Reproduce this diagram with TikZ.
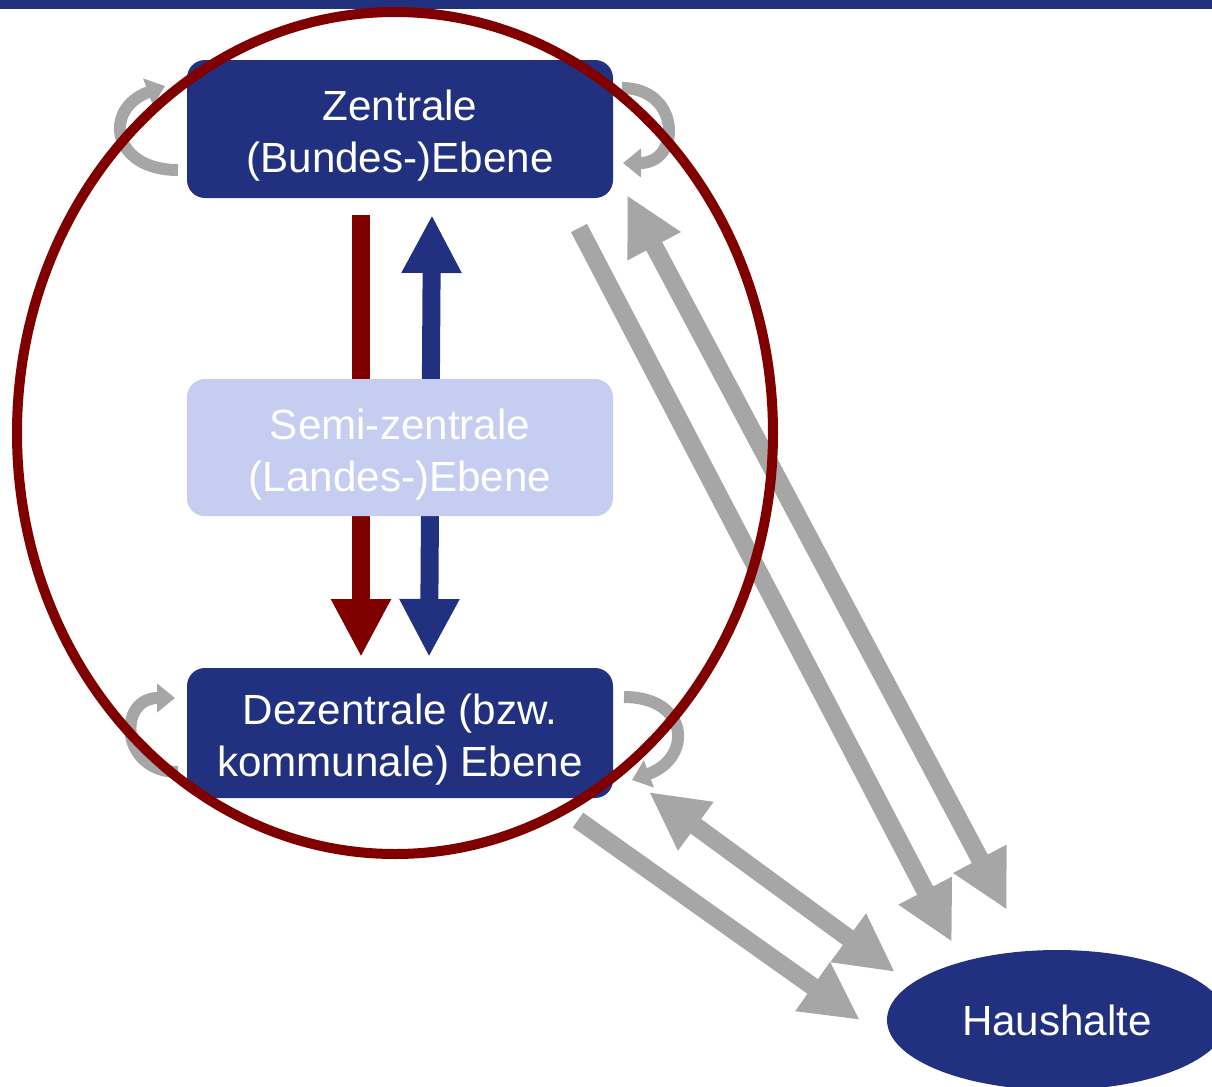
\documentclass[tikz,border=0pt]{standalone}
\usepackage{fontspec}
\setmainfont{Liberation Sans}
\usepackage{xcolor}
\usetikzlibrary{arrows.meta,shapes.geometric}
\definecolor{ebeneblau}{RGB}{33,49,128}
\definecolor{landesblau}{RGB}{197,206,240}
\definecolor{kreisrot}{RGB}{128,0,0}
\definecolor{pfeilgrau}{RGB}{166,166,166}
\newcommand{\obenluft}{\rule{0pt}{1.1cm}}

\begin{document}
\begin{tikzpicture}[inner sep=3pt]
		\tikzstyle{every node}=[align=center, text=white, font=\fontsize{30}{37}\selectfont]
		\tikzstyle{ebene}=[rectangle, rounded corners=0.45cm, minimum width=10.65cm]
		\tikzstyle{blockpfeil}=[line width=0.45cm, -{Triangle[width=1.4cm,length=1.45cm]}]
		\tikzstyle{doppelpfeil}=[line width=0.45cm, {Triangle[width=1.4cm,length=1.45cm]}-{Triangle[width=1.4cm,length=1.45cm]}]
		\tikzstyle{schleife}=[pfeilgrau, line width=0.3cm, -{Triangle[width=0.7cm,length=0.45cm]}]
			\useasboundingbox (0,0) rectangle (30.3,-27.15);
			\fill[ebeneblau] (0,0) rectangle (30.3,-0.225);

			\coordinate (bundOben) at (9.025,-5.375);
			\coordinate (bundUnten) at (9.025,-16.425);
			\coordinate (rueckOben) at (10.8,-5.375);
			\coordinate (rueckUnten) at (10.725,-16.425);
			\coordinate (zhStart) at (14.475,-5.7);
			\coordinate (zhEnde) at (23.8,-23.55);
			\coordinate (hzOben) at (15.675,-4.875);
			\coordinate (hzUnten) at (25.175,-22.75);
			\coordinate (dhStart) at (14.45,-20.5);
			\coordinate (dhEnde) at (21.5,-25.5);
			\coordinate (hdOben) at (16.225,-19.8);
			\coordinate (hdUnten) at (22.375,-24.3);

			\draw[blockpfeil, pfeilgrau] (zhStart) to (zhEnde);
			\draw[doppelpfeil, pfeilgrau] (hzOben) to (hzUnten);
			\draw[blockpfeil, pfeilgrau] (dhStart) to (dhEnde);
			\draw[doppelpfeil, pfeilgrau] (hdOben) to (hdUnten);
			\draw[blockpfeil, kreisrot] (bundOben) to (bundUnten);
			\draw[doppelpfeil, ebeneblau] (rueckOben) to (rueckUnten);

			\node[ebene, fill=ebeneblau, minimum height=3.45cm] (zentral) at (10.0,-3.225) {\obenluft Zentrale\\(Bundes-)Ebene};
			\node[ebene, fill=landesblau, minimum height=3.43cm] (land) at (10.0,-11.19) {\obenluft Semi-zentrale\\(Landes-)Ebene};
			\node[ebene, fill=ebeneblau, minimum height=3.25cm] (dezentral) at (10.0,-18.325) {\obenluft Dezentrale (bzw.\\kommunale) Ebene};
			\node[ellipse, fill=ebeneblau, minimum width=8.5cm, minimum height=3.5cm] (haushalte) at (26.425,-25.5) {Haushalte};

			\coordinate (zlA) at (4.45,-4.25);
			\coordinate (zlB) at (4.125,-2.15);
			\coordinate (zrA) at (15.55,-2.2);
			\coordinate (zrB) at (15.575,-4.075);
			\coordinate (dlA) at (4.45,-19.3);
			\coordinate (dlB) at (4.375,-17.45);
			\coordinate (drA) at (15.6,-17.425);
			\coordinate (drB) at (15.8,-19.5);

			\draw[schleife] (zlA) [out=180, in=200, looseness=2] to (zlB);
			\draw[schleife] (zrA) [out=0, in=0, looseness=2] to (zrB);
			\draw[schleife] (dlA) [out=180, in=180, looseness=2] to (dlB);
			\draw[schleife] (drA) [out=0, in=20, looseness=2] to (drB);

			\draw[kreisrot, line width=0.25cm] (9.875,-10.825) ellipse [x radius=9.45cm, y radius=10.525cm];
		\end{tikzpicture}
\end{document}
